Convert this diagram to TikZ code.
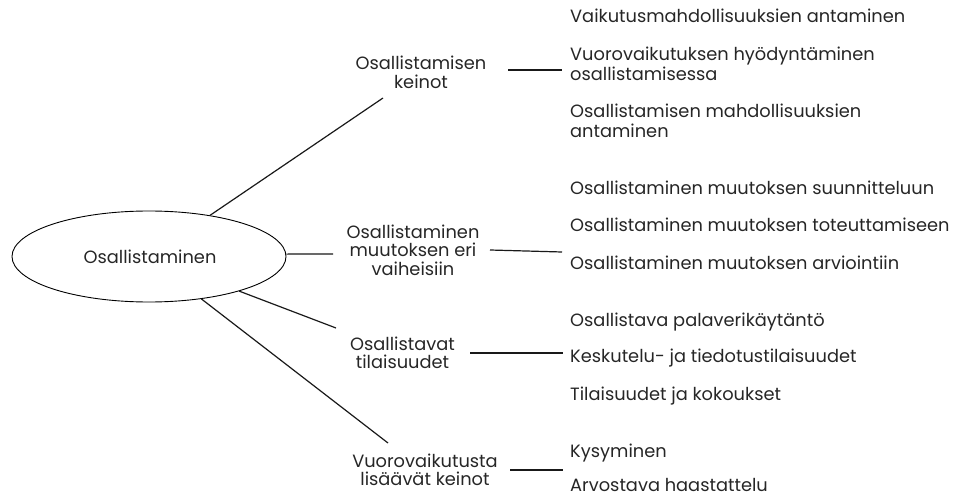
\documentclass[tikz,border=0pt]{standalone}
\usepackage{fontspec}
\setmainfont{Poppins}
\usetikzlibrary{shapes.geometric}
\newcommand{\midtxt}[1]{\begin{tabular}[t]{@{}c@{}}#1\end{tabular}}
\newcommand{\leaftxt}[1]{\begin{tabular}[t]{@{}l@{}}#1\end{tabular}}
\begin{document}
\begin{tikzpicture}[x=1pt,y=-1pt,
  txt/.style={text=black!85, inner sep=0pt},
  mid/.style={txt, font=\fontsize{17.8}{17}\selectfont, anchor=base},
  leaf/.style={txt, font=\fontsize{17.8}{18.5}\selectfont, anchor=base west},
  conn/.style={line width=1.2pt, black!90}]
\useasboundingbox (0,0) rectangle (961,497);
\node[draw, ellipse, line width=0.9pt, minimum width=274pt, minimum height=91pt, inner sep=0pt] (root) at (149,256.5) {};
\node[txt, font=\fontsize{17.8}{17}\selectfont, anchor=base] (rootlabel) at (150,263) {Osallistaminen};

\node[mid] (k) at (421,70) {\midtxt{Osallistamisen\\keinot}};
\node[mid] (m) at (413,238) {\midtxt{Osallistaminen\\muutoksen eri\\vaiheisiin}};
\node[mid] (t) at (402.5,350) {\midtxt{Osallistavat\\tilaisuudet}};
\node[mid] (v) at (425,467) {\midtxt{Vuorovaikutusta\\lisäävät keinot}};

\coordinate (ke) at (383,98);
\coordinate (me) at (333,254);
\coordinate (te) at (336,328);
\coordinate (ve) at (388,443);

\draw[conn] (root.34) -- (ke);
\draw[conn] (root.1) -- (me);
\draw[conn] (root.-21) -- (te);
\draw[conn] (root.-39) -- (ve);

\coordinate (k1) at (508,70);  \coordinate (k2) at (562,70);
\coordinate (m1) at (490,250); \coordinate (m2) at (562,252);
\coordinate (t1) at (470,353); \coordinate (t2) at (563,353);
\coordinate (v1) at (510,470); \coordinate (v2) at (563,470);
\draw[conn] (k1) -- (k2);
\draw[conn] (m1) -- (m2);
\draw[conn] (t1) -- (t2);
\draw[conn] (v1) -- (v2);

\node[leaf] (a1) at (570,23) {Vaikutusmahdollisuuksien antaminen};
\node[leaf] (a2) at (570,61) {\leaftxt{Vuorovaikutuksen hyödyntäminen\\osallistamisessa}};
\node[leaf] (a3) at (570,118) {\leaftxt{Osallistamisen mahdollisuuksien\\antaminen}};
\node[leaf] (b1) at (570,194.5) {Osallistaminen muutoksen suunnitteluun};
\node[leaf] (b2) at (570,231.5) {Osallistaminen muutoksen toteuttamiseen};
\node[leaf] (b3) at (570,269.5) {Osallistaminen muutoksen arviointiin};
\node[leaf] (c1) at (570,326.5) {Osallistava palaverikäytäntö};
\node[leaf] (c2) at (570,362.5) {Keskutelu- ja tiedotustilaisuudet};
\node[leaf] (c3) at (570,400.5) {Tilaisuudet ja kokoukset};
\node[leaf] (d1) at (570,457.5) {Kysyminen};
\node[leaf] (d2) at (570,491) {Arvostava haastattelu};
\end{tikzpicture}
\end{document}
